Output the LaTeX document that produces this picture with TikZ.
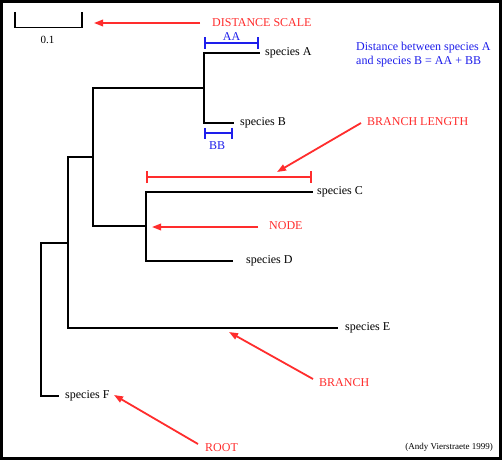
\documentclass[tikz,border=0pt]{standalone}
\usepackage{fontspec}
\setmainfont{Liberation Serif}
\usetikzlibrary{arrows.meta}
\definecolor{lblred}{RGB}{255,45,45}
\definecolor{lblblue}{RGB}{30,30,235}
\begin{document}
\begin{tikzpicture}[x=1pt,y=-1pt,
  tree/.style={line width=1.6pt,line cap=rect},
  redarrow/.style={draw=lblred,line width=1.8pt,-{Triangle[length=9pt,width=6.5pt]}},
  redbar/.style={draw=lblred,line width=1.6pt,{Bar[width=12pt]}-{Bar[width=12pt]}},
  bluebar/.style={draw=lblblue,line width=1.6pt,{Bar[width=11pt]}-{Bar[width=11pt]}},
  sp/.style={anchor=west,inner sep=0pt,font=\fontsize{12}{14}\selectfont},
  redlbl/.style={anchor=west,inner sep=0pt,text=lblred,font=\fontsize{12}{14}\selectfont},
  bluelbl/.style={inner sep=0pt,text=lblblue,font=\fontsize{12}{14}\selectfont}]
\useasboundingbox (0,0) rectangle (502,460);
\fill[white] (0,0) rectangle (502,460);
\draw[line width=3pt] (1.5,1.5) rectangle (500.5,458);
% tree coordinates
\coordinate (nAB) at (204,88);
\coordinate (tA) at (259,53);
\coordinate (tB) at (233,123);
\coordinate (nCD) at (146,226);
\coordinate (tC) at (312,192);
\coordinate (tD) at (232,261);
\coordinate (nABCD) at (93,157);
\coordinate (tE) at (337,328);
\coordinate (nRoot) at (68,243);
\coordinate (tF) at (58,396);
\coordinate (root) at (41,320);
% branches
\draw[tree] (tA) -| (nAB) |- (tB);
\draw[tree] (nAB) -| (nABCD) |- (nCD);
\draw[tree] (tC) -| (nCD) |- (tD);
\draw[tree] (nABCD) -| (nRoot) |- (tE);
\draw[tree] (nRoot) -| (root) |- (tF);
% labels
\node[sp] (lA) at (265,53) {species A};
\node[sp] (lB) at (240,123) {species B};
\node[sp] (lC) at (317,192) {species C};
\node[sp] (lD) at (246,261) {species D};
\node[sp] (lE) at (345,328) {species E};
\node[sp] (lF) at (65,396) {species F};
% scale
\coordinate (s1) at (15,12);
\coordinate (s2) at (82,12);
\draw[line width=1.6pt] (s1) -- (15,27.5) -- (82,27.5) -- (s2);
\node[inner sep=0pt,font=\fontsize{11}{13}\selectfont] (scl) at (47.5,39.5) {0.1};
% red labels and arrows
\node[redlbl] (ds) at (212,23) {DISTANCE SCALE};
\coordinate (dsT) at (200,23);
\coordinate (dsH) at (94,23);
\draw[redarrow] (dsT) -- (dsH);
\node[redlbl] (bl) at (367,122) {BRANCH LENGTH};
\coordinate (blT) at (361,123);
\coordinate (blH) at (277,172);
\draw[redarrow] (blT) -- (blH);
\coordinate (blL) at (146,177);
\coordinate (blR) at (312,177);
\draw[redbar] (blL) -- (blR);
\node[redlbl] (nd) at (269,226) {NODE};
\coordinate (ndT) at (258,227);
\coordinate (ndH) at (152,227);
\draw[redarrow] (ndT) -- (ndH);
\node[redlbl] (br) at (319,383) {BRANCH};
\coordinate (brT) at (313,379);
\coordinate (brH) at (229,332);
\draw[redarrow] (brT) -- (brH);
\node[redlbl] (rt) at (205,448) {ROOT};
\coordinate (rtT) at (198,444);
\coordinate (rtH) at (114,395);
\draw[redarrow] (rtT) -- (rtH);
% blue brackets
\coordinate (aaL) at (204,43);
\coordinate (aaR) at (259,43);
\draw[bluebar] (aaL) -- (aaR);
\node[bluelbl] (aa) at (231.5,37) {AA};
\coordinate (bbL) at (204,133);
\coordinate (bbR) at (233,133);
\draw[bluebar] (bbL) -- (bbR);
\node[bluelbl] (bb) at (217,146) {BB};
\node[bluelbl,anchor=north west,align=left,font=\fontsize{12}{14}\selectfont] (dist) at (356,42) {Distance between species A\\and species B = AA + BB};
% credit
\node[anchor=east,inner sep=0pt,font=\fontsize{9}{11}\selectfont] (cr) at (493,447) {(Andy Vierstraete 1999)};
\end{tikzpicture}
\end{document}
